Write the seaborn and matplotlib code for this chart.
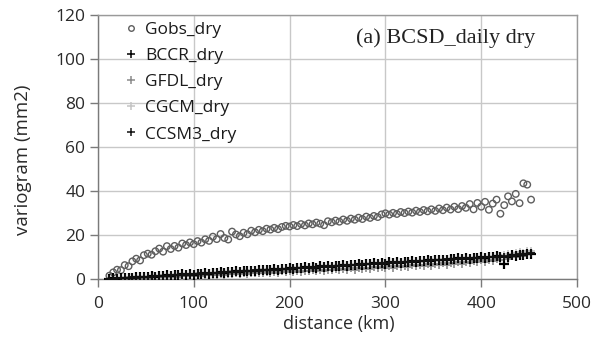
import matplotlib
matplotlib.use("Agg")
import matplotlib.pyplot as plt
import seaborn as sns
import pandas as pd
from matplotlib.lines import Line2D

# ---- data ----
distance_km = [
    12, 16, 20, 24, 28, 32, 36, 40, 44, 48,
    52, 56, 60, 64, 68, 72, 76, 80, 84, 88,
    92, 96, 100, 104, 108, 112, 116, 120, 124, 128,
    132, 136, 140, 144, 148, 152, 156, 160, 164, 168,
    172, 176, 180, 184, 188, 192, 196, 200, 204, 208,
    212, 216, 220, 224, 228, 232, 236, 240, 244, 248,
    252, 256, 260, 264, 268, 272, 276, 280, 284, 288,
    292, 296, 300, 304, 308, 312, 316, 320, 324, 328,
    332, 336, 340, 344, 348, 352, 356, 360, 364, 368,
    372, 376, 380, 384, 388, 392, 396, 400, 404, 408,
    412, 416, 420, 424, 428, 432, 436, 440, 444, 448, 452,
]

gobs_dry = [
    1.5, 3.0, 4.2, 4.0, 6.3, 5.8, 8.0, 9.2, 8.4, 10.8,
    11.5, 11.0, 12.6, 13.8, 12.4, 14.9, 13.6, 15.0, 14.2, 16.1,
    15.4, 16.6, 15.8, 17.2, 16.5, 18.0, 17.3, 19.2, 18.1, 20.4,
    18.6, 17.9, 21.5, 20.2, 19.4, 21.0, 20.3, 21.9, 21.2, 22.3,
    21.7, 22.8, 22.4, 23.2, 22.6, 23.6, 24.1, 23.8, 24.5, 24.0,
    24.9, 24.3, 25.2, 24.8, 25.6, 25.1, 24.4, 26.2, 25.7, 26.5,
    26.0, 27.0, 26.4, 27.4, 26.9, 27.8, 27.2, 28.3, 27.7, 28.6,
    28.1, 29.3, 29.8, 29.2, 30.0, 29.5, 30.4, 29.9, 30.6, 30.1,
    31.0, 30.4, 31.3, 30.7, 31.6, 30.9, 32.0, 31.2, 32.4, 31.5,
    32.8, 31.7, 33.1, 32.3, 34.0, 31.6, 34.5, 32.8, 35.0, 31.4,
    34.2, 36.0, 29.6, 33.5, 37.5, 35.2, 38.6, 34.4, 43.4, 42.8, 36.0,
]

bccr_dry = [
    0.0, 0.3, 0.1, 0.5, 0.3, 0.6, 0.4, 0.9, 0.7, 1.0,
    0.9, 1.3, 1.1, 1.4, 1.2, 1.6, 1.5, 1.8, 1.6, 2.1,
    1.9, 2.3, 2.0, 2.4, 2.3, 2.6, 2.4, 2.9, 2.7, 3.0,
    2.9, 3.3, 3.0, 3.4, 3.3, 3.7, 3.4, 3.8, 3.6, 4.1,
    3.9, 4.3, 4.0, 4.4, 4.2, 4.6, 4.5, 4.8, 4.6, 5.1,
    4.9, 5.3, 5.0, 5.5, 5.2, 5.7, 5.4, 5.8, 5.6, 6.1,
    5.9, 6.3, 6.0, 6.5, 6.2, 6.7, 6.4, 6.8, 6.6, 7.1,
    6.9, 7.3, 7.0, 7.5, 7.2, 7.7, 7.4, 7.8, 7.6, 8.1,
    7.9, 8.3, 8.0, 8.5, 8.2, 8.7, 8.4, 8.8, 8.6, 9.1,
    8.9, 9.3, 9.0, 9.5, 9.2, 9.7, 9.4, 9.8, 9.6, 10.1,
    9.9, 10.3, 10.0, 6.6, 10.2, 10.8, 10.5, 11.0, 10.7, 11.2, 11.4,
]

gfdl_dry = [
    0.0, 0.2, 0.1, 0.3, 0.2, 0.4, 0.3, 0.6, 0.4, 0.7,
    0.6, 0.9, 0.7, 1.0, 0.8, 1.2, 1.0, 1.3, 1.1, 1.5,
    1.3, 1.6, 1.4, 1.8, 1.5, 1.9, 1.7, 2.0, 1.8, 2.2,
    2.0, 2.4, 2.1, 2.5, 2.3, 2.6, 2.4, 2.8, 2.5, 2.9,
    2.7, 3.1, 2.8, 3.2, 2.9, 3.4, 3.0, 3.5, 3.2, 3.6,
    3.3, 3.8, 3.4, 3.9, 3.6, 4.1, 3.7, 4.2, 3.9, 4.4,
    4.0, 4.6, 4.1, 4.8, 4.3, 5.0, 4.4, 5.1, 4.6, 5.3,
    4.8, 5.5, 5.0, 5.7, 5.1, 5.9, 5.3, 6.0, 5.5, 6.2,
    5.7, 6.4, 5.9, 6.6, 6.1, 6.9, 6.3, 7.1, 6.5, 7.4,
    6.8, 7.6, 7.0, 7.9, 7.3, 8.2, 7.6, 8.5, 7.9, 8.8,
    8.3, 9.2, 8.7, 9.8, 9.2, 10.4, 9.9, 11.0, 10.6, 11.6, 12.0,
]

cgcm_dry = [
    0.1, 0.2, 0.4, 0.3, 0.5, 0.7, 0.6, 0.8, 1.0, 0.9,
    1.1, 1.3, 1.2, 1.4, 1.6, 1.5, 1.7, 1.9, 1.8, 2.0,
    2.2, 2.1, 2.3, 2.5, 2.4, 2.6, 2.8, 2.7, 2.9, 3.1,
    3.0, 3.2, 3.4, 3.3, 3.5, 3.7, 3.6, 3.8, 4.0, 3.9,
    4.1, 4.3, 4.2, 4.4, 4.6, 4.5, 4.7, 4.9, 4.8, 5.0,
    5.2, 5.1, 5.3, 5.5, 5.4, 5.6, 5.8, 5.7, 5.9, 6.1,
    6.0, 6.2, 6.4, 6.3, 6.5, 6.7, 6.6, 6.8, 7.0, 6.9,
    7.1, 7.3, 7.2, 7.4, 7.6, 7.5, 7.7, 7.9, 7.8, 8.0,
    8.2, 8.1, 8.3, 8.5, 8.4, 8.6, 8.8, 8.7, 8.9, 9.1,
    9.0, 9.2, 9.4, 9.3, 9.5, 9.7, 9.6, 9.8, 10.0, 9.9,
    10.2, 10.6, 10.4, 10.9, 11.3, 11.1, 11.8, 12.2, 12.0, 12.5, 12.8,
]

ccsm3_dry = [
    0.2, 0.1, 0.4, 0.3, 0.6, 0.5, 0.8, 0.6, 0.9, 0.8,
    1.1, 1.0, 1.3, 1.2, 1.5, 1.4, 1.7, 1.6, 1.9, 1.8,
    2.1, 2.0, 2.3, 2.2, 2.5, 2.4, 2.7, 2.6, 2.9, 2.8,
    3.1, 3.0, 3.3, 3.2, 3.5, 3.4, 3.7, 3.6, 3.9, 3.8,
    4.1, 4.0, 4.3, 4.2, 4.5, 4.4, 4.7, 4.6, 4.9, 4.8,
    5.1, 5.0, 5.3, 5.2, 5.5, 5.4, 5.7, 5.6, 5.9, 5.8,
    6.1, 6.0, 6.3, 6.2, 6.5, 6.4, 6.7, 6.6, 6.9, 6.8,
    7.1, 7.0, 7.3, 7.2, 7.5, 7.4, 7.7, 7.6, 7.9, 7.8,
    8.1, 8.0, 8.3, 8.2, 8.5, 8.4, 8.7, 8.6, 8.9, 8.8,
    9.1, 9.0, 9.3, 9.2, 9.5, 9.4, 9.7, 9.6, 9.9, 9.8,
    10.1, 10.0, 10.3, 10.2, 10.5, 10.4, 10.9, 11.3, 11.0, 11.5, 11.8,
]

x_ticks = [0, 100, 200, 300, 400, 500]
y_ticks = [0, 20, 40, 60, 80, 100, 120]

series = [
    ("Gobs_dry", gobs_dry),
    ("BCCR_dry", bccr_dry),
    ("GFDL_dry", gfdl_dry),
    ("CGCM_dry", cgcm_dry),
    ("CCSM3_dry", ccsm3_dry),
]

df = pd.concat(
    [pd.DataFrame({"distance": distance_km, "variogram": vals, "series": name})
     for name, vals in series],
    ignore_index=True,
)

# ---- styling ----
sns.set_theme(style="white")
plt.rcParams["font.family"] = ["Open Sans", "DejaVu Sans"]

fig = plt.figure(figsize=(5.97, 3.38), dpi=100)
ax = fig.add_axes([0.164, 0.1746, 0.8026, 0.7825])

styles = {
    "Gobs_dry": dict(marker="o", s=22, facecolor="none", edgecolor="#5e5e5e", linewidth=1.0),
    "BCCR_dry": dict(marker="+", s=48, color="#000000", linewidth=1.6),
    "GFDL_dry": dict(marker="+", s=34, color="#8a8a8a", linewidth=1.2),
    "CGCM_dry": dict(marker="+", s=34, color="#c4c4c4", linewidth=1.2),
    "CCSM3_dry": dict(marker="+", s=32, color="#111111", linewidth=1.3),
}

draw_order = ["Gobs_dry", "GFDL_dry", "CGCM_dry", "BCCR_dry", "CCSM3_dry"]
for name in draw_order:
    sub = df[df["series"] == name]
    sns.scatterplot(data=sub, x="distance", y="variogram", ax=ax, label=name,
                    legend=False, zorder=3, **styles[name])

# legend in the reference order
leg_handles = []
for name, _ in series:
    st = styles[name]
    if st["marker"] == "o":
        h = Line2D([], [], linestyle="none", marker="o", markersize=4,
                   markerfacecolor="none", markeredgecolor=st["edgecolor"],
                   markeredgewidth=1.0)
    else:
        h = Line2D([], [], linestyle="none", marker="+", markersize=5.5,
                   color=st["color"], markeredgewidth=1.1)
    leg_handles.append(h)
ax.legend(leg_handles, [n for n, _ in series], loc="upper left",
          bbox_to_anchor=(0.03, 1.013), frameon=False, fontsize=12.5,
          labelspacing=0.58, handletextpad=0.4, handlelength=0.9,
          borderaxespad=0.2, labelcolor="#1a1a1a")

ax.set_xlim(0, 500)
ax.set_ylim(0, 120)
ax.set_xticks(x_ticks)
ax.set_yticks(y_ticks)
ax.grid(True, color="#c8c8c8", linewidth=1.0)
ax.set_axisbelow(True)

for side in ["top", "right"]:
    ax.spines[side].set_color("#9a9a9a")
    ax.spines[side].set_linewidth(1.0)
for side in ["left", "bottom"]:
    ax.spines[side].set_color("#7a7a7a")
    ax.spines[side].set_linewidth(1.0)

ax.tick_params(axis="both", direction="out", length=6, width=1, color="#7a7a7a",
               labelsize=12.5, labelcolor="#2a2a2a", bottom=True, left=True, pad=3)
ax.tick_params(axis="x", pad=6)

ax.set_xlabel("distance (km)", fontsize=13, color="#2a2a2a")
ax.set_ylabel("variogram (mm2)", fontsize=13.5, color="#2a2a2a")
ax.xaxis.set_label_coords(0.503, -0.135)
ax.yaxis.set_label_coords(-0.138, 0.45)

ax.text(0.725, 0.91, "(a) BCSD_daily dry", transform=ax.transAxes,
        fontsize=16, family=["Liberation Serif", "DejaVu Serif"],
        color="#222222", ha="center", va="center")

fig.savefig("out.png", dpi=100)
